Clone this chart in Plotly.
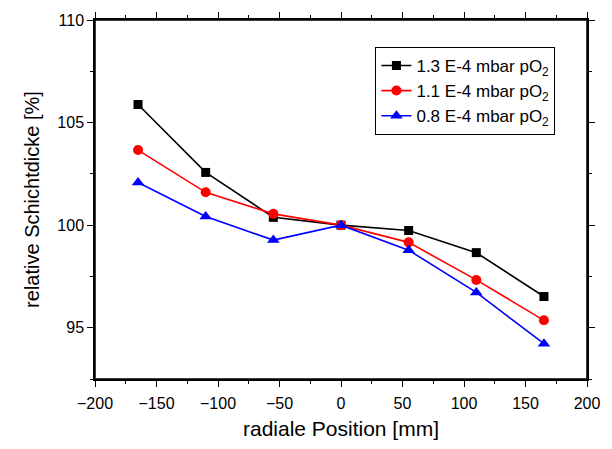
import plotly.graph_objects as go

positions = [-165, -110, -55, 0, 55, 110, 165]
series_names = ["1.3 E-4 mbar pO<sub>2</sub>", "1.1 E-4 mbar pO<sub>2</sub>", "0.8 E-4 mbar pO<sub>2</sub>"]
thick_13 = [105.88, 102.57, 100.38, 100.0, 99.74, 98.66, 96.52]
thick_11 = [103.66, 101.6, 100.55, 100.0, 99.16, 97.33, 95.36]
thick_08 = [102.08, 100.42, 99.27, 100.0, 98.78, 96.72, 94.22]

colors = ["black", "red", "blue"]
symbols = ["square", "circle", "triangle-up"]
sizes = [9, 10, 11]

fig = go.Figure()
for name, ys, c, s, sz in zip(series_names, [thick_13, thick_11, thick_08], colors, symbols, sizes):
    fig.add_trace(go.Scatter(x=positions, y=ys, name=name, mode="lines+markers",
                             line=dict(color=c, width=1.6),
                             marker=dict(color=c, symbol=s, size=sz)))

font = "Liberation Sans, Arial, sans-serif"
fig.update_layout(
    width=612, height=449,
    margin=dict(l=95, r=23, t=17, b=69),
    plot_bgcolor="white", paper_bgcolor="white",
    font=dict(family=font, color="black", size=16),
    showlegend=True,
    legend=dict(x=0.57, y=0.925, xanchor="left", yanchor="top",
                bordercolor="black", borderwidth=1, bgcolor="white",
                font=dict(size=17), itemwidth=30),
    xaxis=dict(range=[-200, 200], dtick=50, tick0=-200, showgrid=False, zeroline=False,
               showline=True, linecolor="black", linewidth=1.5, mirror="ticks",
               ticks="outside", ticklen=6, tickcolor="black", ticklabelstandoff=3,
               minor=dict(dtick=25, ticks="outside", ticklen=3, tickcolor="black"),
               title=dict(text="radiale Position [mm]", font=dict(size=21), standoff=10),
               tickfont=dict(size=16)),
    yaxis=dict(range=[92.5, 110], dtick=5, tick0=95, showgrid=False, zeroline=False,
               showline=True, linecolor="black", linewidth=1.5, mirror="ticks",
               ticks="outside", ticklen=6, tickcolor="black",
               minor=dict(dtick=2.5, ticks="outside", ticklen=3, tickcolor="black"),
               title=dict(text="relative Schichtdicke [%]", font=dict(size=20), standoff=12),
               tickfont=dict(size=16)),
    shapes=[dict(type="rect", xref="paper", yref="paper", x0=0, y0=0, x1=1, y1=1,
                 line=dict(color="black", width=1.5), layer="above")],
)

fig.write_html("out.html")
